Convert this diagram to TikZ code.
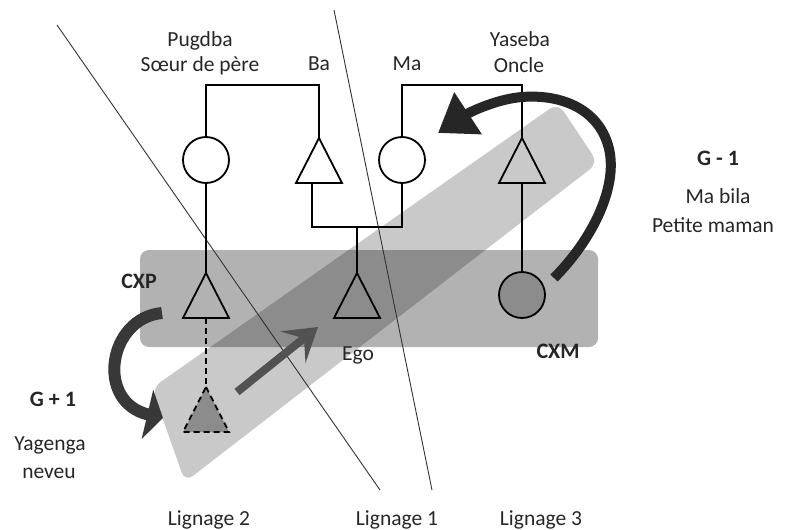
\documentclass[tikz,border=0pt]{standalone}
\usepackage{fontspec}
\setmainfont{Carlito}
\usetikzlibrary{arrows.meta}
\newcommand\kintri[4]{%
  \coordinate (#1) at (#2,#3);
  \coordinate (#1b) at (#2,#3+45);
  \draw[kin,#4] (#2,#3) -- (#2+23,#3+45) -- (#2-23,#3+45) -- cycle;}
\begin{document}
\begin{tikzpicture}[x=1pt,y=-1pt,
  kin/.style={line width=1.8pt, draw=black, line join=miter},
  circ/.style={circle, draw=black, line width=1.8pt, minimum size=46pt, inner sep=0pt},
  lin/.style={line width=0.9pt, draw=black!80},
  lbl/.style={font=\fontsize{21.5}{24}\selectfont, text=black!85, inner sep=0pt, anchor=base},
  blbl/.style={font=\fontsize{22}{24}\selectfont\bfseries, text=black!85, inner sep=0pt, anchor=base}
]
\useasboundingbox (0,0) rectangle (787,530);

% grey bands
\fill[black, fill opacity=0.3, rounded corners=9pt] (140,250) rectangle (598,347);
\fill[black, fill opacity=0.21, rounded corners=10pt] (152,388) -- (185,482) -- (598,163) -- (558,103) -- cycle;

% lineage dividers
\coordinate (la1) at (57,25);
\coordinate (la2) at (380,490);
\coordinate (lb1) at (334,10);
\coordinate (lb2) at (432,490);
\draw[lin] (la1) -- (la2);
\draw[lin] (lb1) -- (lb2);

% persons
\node[circ] (pug) at (206,160) {};
\node[circ] (ma) at (402,160) {};
\node[circ, fill=black!45] (cxm) at (522,295) {};
\kintri{ba}{319}{138}{}
\kintri{yas}{522}{138}{}
\kintri{cxp}{206}{273}{}
\kintri{ego}{357}{273}{fill=black!45}
\kintri{nev}{206}{387}{fill=black!45, dash pattern=on 6pt off 4pt}

% kinship connectors
\coordinate (sib) at (357,227);
\draw[kin] (pug.north) -- ++(0,-51) -| (ba);
\draw[kin] ([xshift=-7pt]bab) |- (sib) -| (ma.south);
\draw[kin] (sib) -- (ego);
\draw[kin] (ma.north) -- ++(0,-51) -| (yas);
\draw[kin] (yasb) -- (cxm.north);
\draw[kin] (pug.south) -- (cxp);
\draw[kin, dash pattern=on 6pt off 4pt] (cxpb) -- (nev);

% arrows
\coordinate (a1s) at (554,278);
\coordinate (a1e) at (438,133);
\draw[line width=10pt, draw=black!85, -{Triangle[length=36pt,width=48pt]}]
  (a1s) .. controls (592,240) and (620,185) .. (608,145)
        .. controls (597,108) and (560,94) .. (522,97)
        .. controls (497,99) and (470,112) .. (a1e);
\coordinate (a2s) at (162,313);
\coordinate (a2e) at (163,418);
\draw[line width=12pt, draw=black!78, -{Triangle[length=16pt,width=50pt]}]
  (a2s) .. controls (108,318) and (95,402) .. (a2e);
\coordinate (a3s) at (237,392);
\coordinate (a3e) at (318,327);
\draw[line width=8pt, draw=black!68, -{Stealth[length=32pt,width=40pt,inset=14pt]}] (a3s) -- (a3e);

% labels
\node[lbl] (t1) at (200,46) {Pugdba};
\node[lbl] (t2) at (200,71) {Sœur de père};
\node[lbl] (t3) at (319,70) {Ba};
\node[lbl] (t4) at (407,70) {Ma};
\node[lbl] (t5) at (520,46) {Yaseba};
\node[lbl] (t6) at (519,72) {Oncle};
\node[blbl] (t7) at (718,165) {G - 1};
\node[lbl] (t8) at (718,203) {Ma bila};
\node[lbl] (t9) at (713,232) {Petite maman};
\node[blbl] (t10) at (139,288) {CXP};
\node[lbl] (t11) at (358,360) {Ego};
\node[blbl] (t12) at (558,358) {CXM};
\node[blbl] (t13) at (53,406) {G + 1};
\node[lbl] (t14) at (50,450) {Yagenga};
\node[lbl] (t15) at (49,478) {neveu};
\node[lbl] (t16) at (209,525) {Lignage 2};
\node[lbl] (t17) at (397,525) {Lignage 1};
\node[lbl] (t18) at (541,525) {Lignage 3};
\end{tikzpicture}
\end{document}
